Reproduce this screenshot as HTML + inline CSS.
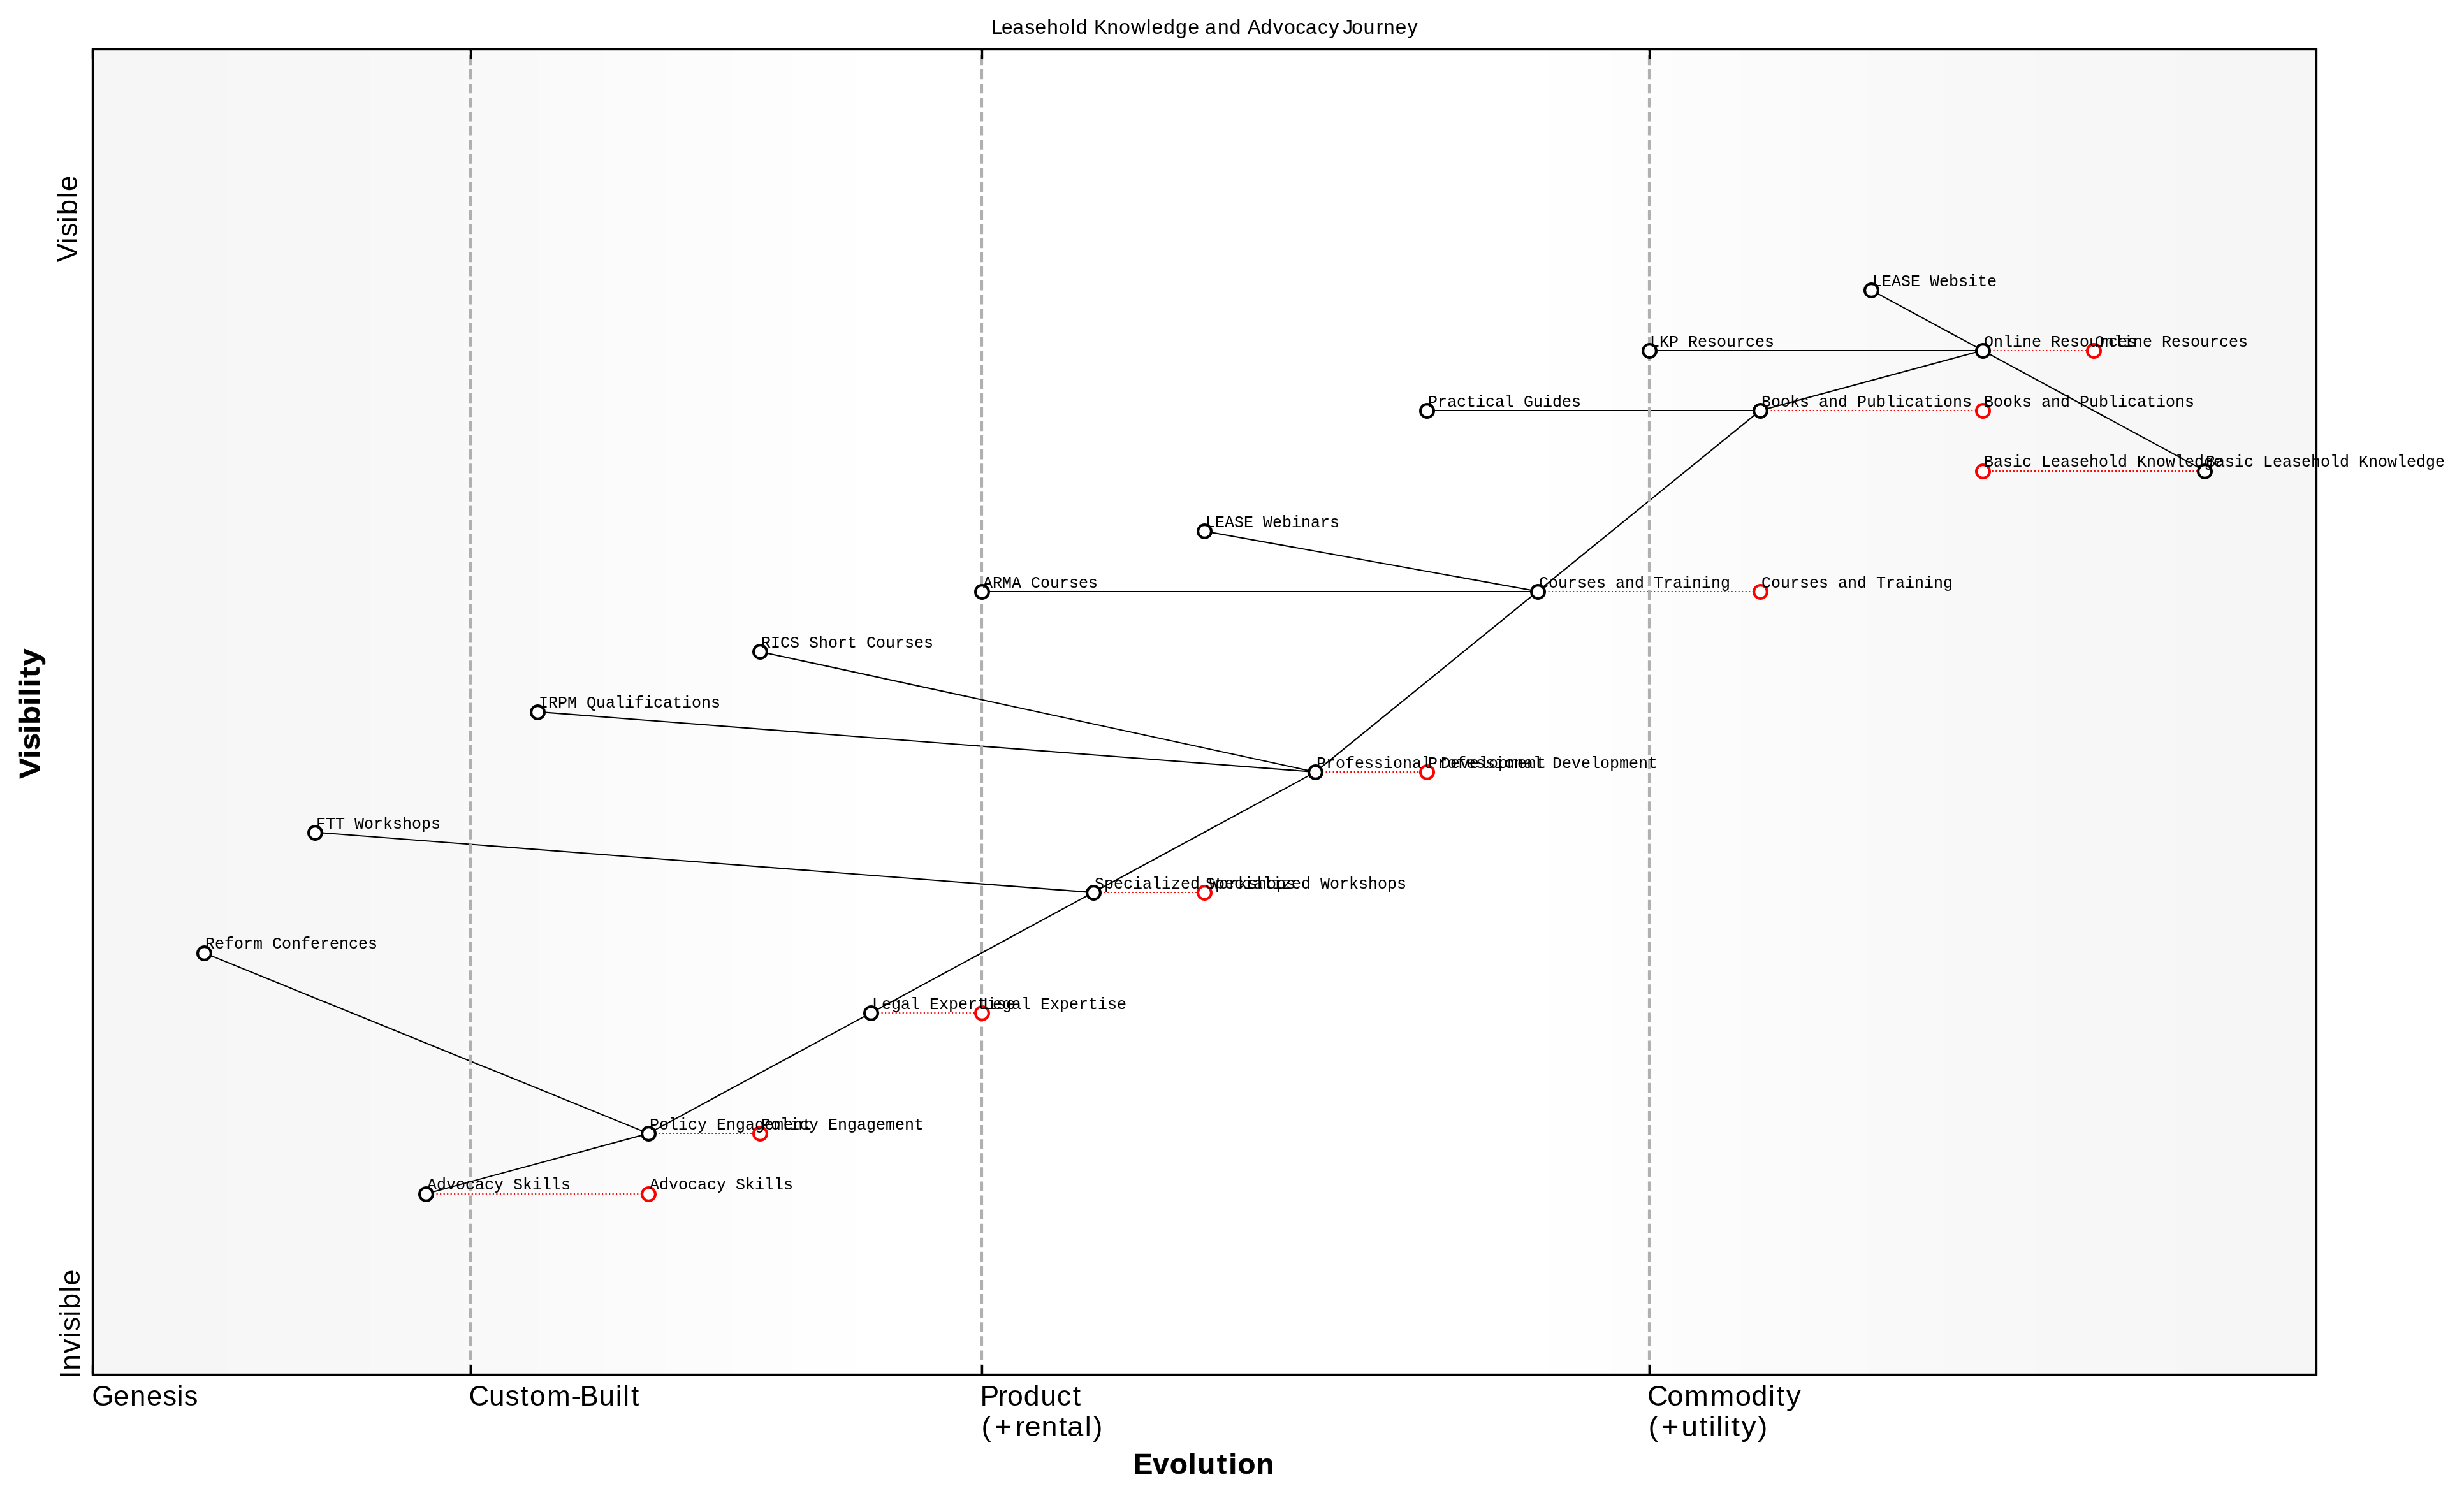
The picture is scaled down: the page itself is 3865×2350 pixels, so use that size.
<!DOCTYPE html>
<html lang="en"><head><meta charset="utf-8"><title>Leasehold Knowledge and Advocacy Journey</title>
<style>
html,body{margin:0;padding:0;background:#fff;}
body{width:3865px;height:2350px;font-family:"Liberation Sans",sans-serif;}
svg{display:block;position:absolute;left:0;top:0;will-change:transform;}
text{fill:#000;stroke:#000;stroke-linejoin:round;white-space:pre;}
.m{font-family:"Liberation Mono",monospace;font-size:26px;stroke-width:0.1;}
.t{font-family:"Liberation Sans",sans-serif;font-size:44px;stroke-width:0;}
.b{font-family:"Liberation Sans",sans-serif;font-weight:bold;font-size:44px;stroke-width:0.6;}
.h{font-family:"Liberation Sans",sans-serif;font-size:31.6px;stroke-width:0.08;}
.e{stroke:#000;stroke-width:2.083;fill:none;stroke-linecap:butt;}
.d{stroke:#f00;stroke-width:2.083;fill:none;stroke-dasharray:2.083 3.4375;}
.g{stroke:#b0b0b0;stroke-width:4.19;fill:none;stroke-dasharray:15.4167 6.6667;}
.k{stroke:#000;stroke-width:3.36;fill:none;}
.n{fill:#fff;stroke:#000;stroke-width:4.17;}
.r{fill:#fff;stroke:#f00;stroke-width:4.17;}
</style></head><body>
<svg width="3865" height="2350" viewBox="0 0 3865 2350">
<rect x="0" y="0" width="3865" height="2350" fill="#fff"/>
<g shape-rendering="crispEdges">
<rect x="145" y="77" width="213" height="2080" fill="#f6f6f6"/>
<rect x="358" y="77" width="223" height="2080" fill="#f7f7f7"/>
<rect x="581" y="77" width="145" height="2080" fill="#f8f8f8"/>
<rect x="726" y="77" width="118" height="2080" fill="#f9f9f9"/>
<rect x="844" y="77" width="104" height="2080" fill="#fafafa"/>
<rect x="948" y="77" width="96" height="2080" fill="#fbfbfb"/>
<rect x="1044" y="77" width="104" height="2080" fill="#fcfcfc"/>
<rect x="1148" y="77" width="96" height="2080" fill="#fdfdfd"/>
<rect x="1244" y="77" width="100" height="2080" fill="#fefefe"/>
<rect x="1344" y="77" width="1085" height="2080" fill="#ffffff"/>
<rect x="2429" y="77" width="100" height="2080" fill="#fefefe"/>
<rect x="2529" y="77" width="95" height="2080" fill="#fdfdfd"/>
<rect x="2624" y="77" width="105" height="2080" fill="#fcfcfc"/>
<rect x="2729" y="77" width="95" height="2080" fill="#fbfbfb"/>
<rect x="2824" y="77" width="105" height="2080" fill="#fafafa"/>
<rect x="2929" y="77" width="118" height="2080" fill="#f9f9f9"/>
<rect x="3047" y="77" width="145" height="2080" fill="#f8f8f8"/>
<rect x="3192" y="77" width="223" height="2080" fill="#f7f7f7"/>
<rect x="3415" y="77" width="219" height="2080" fill="#f6f6f6"/>
</g>
<g class="e">
<line x1="668.375" y1="1872.65" x2="1017.125" y2="1778.15"/>
<line x1="319.625" y1="1494.65" x2="1017.125" y2="1778.15"/>
<line x1="1017.125" y1="1778.15" x2="1365.875" y2="1589.15"/>
<line x1="1365.875" y1="1589.15" x2="1714.625" y2="1400.15"/>
<line x1="494" y1="1305.65" x2="1714.625" y2="1400.15"/>
<line x1="1714.625" y1="1400.15" x2="2063.375" y2="1211.15"/>
<line x1="842.75" y1="1116.65" x2="2063.375" y2="1211.15"/>
<line x1="1191.5" y1="1022.15" x2="2063.375" y2="1211.15"/>
<line x1="2063.375" y1="1211.15" x2="2412.125" y2="927.65"/>
<line x1="1540" y1="928" x2="2412" y2="928"/>
<line x1="1889" y1="833.15" x2="2412.125" y2="927.65"/>
<line x1="2412.125" y1="927.65" x2="2760.875" y2="644.15"/>
<line x1="2238" y1="644" x2="2761" y2="644"/>
<line x1="2760.875" y1="644.15" x2="3109.625" y2="549.65"/>
<line x1="2586" y1="550" x2="3110" y2="550"/>
<line x1="2935.25" y1="455.15" x2="3109.625" y2="549.65"/>
<line x1="3109.625" y1="549.65" x2="3458.375" y2="738.65"/>
</g>
<g class="d">
<line x1="668" y1="1873" x2="1017" y2="1873"/>
<line x1="1017" y1="1778" x2="1192" y2="1778"/>
<line x1="1366" y1="1589" x2="1540" y2="1589"/>
<line x1="1715" y1="1400" x2="1889" y2="1400"/>
<line x1="2063" y1="1211" x2="2238" y2="1211"/>
<line x1="2412" y1="928" x2="2761" y2="928"/>
<line x1="2761" y1="644" x2="3110" y2="644"/>
<line x1="3110" y1="550" x2="3284" y2="550"/>
<line x1="3458" y1="739" x2="3110" y2="739"/>
</g>
<g class="g">
<line x1="738" y1="2155.91" x2="738" y2="77.5"/>
<line x1="1540" y1="2155.91" x2="1540" y2="77.5"/>
<line x1="2587" y1="2155.91" x2="2587" y2="77.5"/>
</g>
<g class="k">
<line x1="145.5" y1="77.5" x2="145.5" y2="92.56"/>
<line x1="145.5" y1="2141.38" x2="145.5" y2="2156.5"/>
<line x1="738.5" y1="77.5" x2="738.5" y2="92.56"/>
<line x1="738.5" y1="2141.38" x2="738.5" y2="2156.5"/>
<line x1="1540.5" y1="77.5" x2="1540.5" y2="92.56"/>
<line x1="1540.5" y1="2141.38" x2="1540.5" y2="2156.5"/>
<line x1="2587.5" y1="77.5" x2="2587.5" y2="92.56"/>
<line x1="2587.5" y1="2141.38" x2="2587.5" y2="2156.5"/>
</g>
<circle class="n" cx="320.5" cy="1495.5" r="10.42"/>
<circle class="n" cx="494.5" cy="1306.5" r="10.42"/>
<circle class="n" cx="668.5" cy="1873.5" r="10.42"/>
<circle class="n" cx="843.5" cy="1117.5" r="10.42"/>
<circle class="n" cx="1017.5" cy="1778.5" r="10.42"/>
<circle class="n" cx="1192.5" cy="1022.5" r="10.42"/>
<circle class="n" cx="1366.5" cy="1589.5" r="10.42"/>
<circle class="n" cx="1540.5" cy="928.5" r="10.42"/>
<circle class="n" cx="1715.5" cy="1400.5" r="10.42"/>
<circle class="n" cx="1889.5" cy="833.5" r="10.42"/>
<circle class="n" cx="2063.5" cy="1211.5" r="10.42"/>
<circle class="n" cx="2238.5" cy="644.5" r="10.42"/>
<circle class="n" cx="2412.5" cy="928.5" r="10.42"/>
<circle class="n" cx="2587.5" cy="550.5" r="10.42"/>
<circle class="n" cx="2761.5" cy="644.5" r="10.42"/>
<circle class="n" cx="2935.5" cy="455.5" r="10.42"/>
<circle class="n" cx="3110.5" cy="550.5" r="10.42"/>
<circle class="n" cx="3458.5" cy="739.5" r="10.42"/>
<circle class="r" cx="1017.5" cy="1873.5" r="10.42"/>
<circle class="r" cx="1192.5" cy="1778.5" r="10.42"/>
<circle class="r" cx="1540.5" cy="1589.5" r="10.42"/>
<circle class="r" cx="1889.5" cy="1400.5" r="10.42"/>
<circle class="r" cx="2238.5" cy="1211.5" r="10.42"/>
<circle class="r" cx="2761.5" cy="928.5" r="10.42"/>
<circle class="r" cx="3110.5" cy="644.5" r="10.42"/>
<circle class="r" cx="3284.5" cy="550.5" r="10.42"/>
<circle class="r" cx="3110.5" cy="739.5" r="10.42"/>
<rect class="k" x="145.5" y="77.5" width="3488" height="2079"/>
<text class="m" x="322" y="1488" textLength="270" lengthAdjust="spacingAndGlyphs">Reform Conferences</text>
<text class="m" x="496" y="1300" textLength="195" lengthAdjust="spacingAndGlyphs">FTT Workshops</text>
<text class="m" x="670" y="1866" textLength="225" lengthAdjust="spacingAndGlyphs">Advocacy Skills</text>
<text class="m" x="845" y="1110" textLength="285" lengthAdjust="spacingAndGlyphs">IRPM Qualifications</text>
<text class="m" x="1019" y="1772" textLength="255" lengthAdjust="spacingAndGlyphs">Policy Engagement</text>
<text class="m" x="1194" y="1016" textLength="270" lengthAdjust="spacingAndGlyphs">RICS Short Courses</text>
<text class="m" x="1368" y="1583" textLength="225" lengthAdjust="spacingAndGlyphs">Legal Expertise</text>
<text class="m" x="1542" y="922" textLength="180" lengthAdjust="spacingAndGlyphs">ARMA Courses</text>
<text class="m" x="1717" y="1394" textLength="315" lengthAdjust="spacingAndGlyphs">Specialized Workshops</text>
<text class="m" x="1891" y="827" textLength="210" lengthAdjust="spacingAndGlyphs">LEASE Webinars</text>
<text class="m" x="2065" y="1205" textLength="360" lengthAdjust="spacingAndGlyphs">Professional Development</text>
<text class="m" x="2240" y="638" textLength="240" lengthAdjust="spacingAndGlyphs">Practical Guides</text>
<text class="m" x="2414" y="922" textLength="300" lengthAdjust="spacingAndGlyphs">Courses and Training</text>
<text class="m" x="2588" y="544" textLength="195" lengthAdjust="spacingAndGlyphs">LKP Resources</text>
<text class="m" x="2763" y="638" textLength="330" lengthAdjust="spacingAndGlyphs">Books and Publications</text>
<text class="m" x="2937" y="449" textLength="195" lengthAdjust="spacingAndGlyphs">LEASE Website</text>
<text class="m" x="3112" y="544" textLength="240" lengthAdjust="spacingAndGlyphs">Online Resources</text>
<text class="m" x="3460" y="732" textLength="375" lengthAdjust="spacingAndGlyphs">Basic Leasehold Knowledge</text>
<text class="m" x="1019" y="1866" textLength="225" lengthAdjust="spacingAndGlyphs">Advocacy Skills</text>
<text class="m" x="1194" y="1772" textLength="255" lengthAdjust="spacingAndGlyphs">Policy Engagement</text>
<text class="m" x="1542" y="1583" textLength="225" lengthAdjust="spacingAndGlyphs">Legal Expertise</text>
<text class="m" x="1891" y="1394" textLength="315" lengthAdjust="spacingAndGlyphs">Specialized Workshops</text>
<text class="m" x="2240" y="1205" textLength="360" lengthAdjust="spacingAndGlyphs">Professional Development</text>
<text class="m" x="2763" y="922" textLength="300" lengthAdjust="spacingAndGlyphs">Courses and Training</text>
<text class="m" x="3112" y="638" textLength="330" lengthAdjust="spacingAndGlyphs">Books and Publications</text>
<text class="m" x="3286" y="544" textLength="240" lengthAdjust="spacingAndGlyphs">Online Resources</text>
<text class="m" x="3112" y="732" textLength="375" lengthAdjust="spacingAndGlyphs">Basic Leasehold Knowledge</text>
<text class="h" transform="translate(0 53) scale(0.996 1)" x="1560.658 1577.217 1594.532 1613.925 1629.949 1648.807 1667.521 1686.287 1694.682 1713.284 1722.97 1743.52 1762.188 1781.144 1805.562 1813.883 1832.538 1851.747 1870.884 1888.931 1897.74 1917.786 1936.62 1955.222 1964.521 1985.46 2005.076 2022.332 2040.353 2056.187 2075.382 2092.955 2109.777 2114.605 2128.8 2147.467 2167.446 2178.809 2197.57 2216.624" y="0">Leasehold Knowledge and Advocacy Journey</text>
<text class="t" transform="translate(0 2205) scale(0.996 1)" x="144.82 178.759 204.913 230.967 256.25 278.757 289.634" y="0">Genesis</text>
<text class="t" transform="translate(0 2205) scale(1.002 1)" x="733.936 765.402 791.047 814.539 829.354 856.243 894.818 907.655 937.524 963.871 975.324 987.908" y="0">Custom-Built</text>
<text class="t" transform="translate(0 2205) scale(1.014 1)" x="1516.404 1543.886 1558.315 1583.585 1609.748 1634.817 1659.487" y="0">Product</text>
<text class="t" transform="translate(0 2253) scale(1.022 1)" x="1506.34 1526.841 1558.479 1572.939 1598.436 1625.28 1638.215 1665.207 1677.534" y="0">(+rental)</text>
<text class="t" transform="translate(0 2205) scale(1.03 1)" x="2508.761 2539.092 2565.095 2604.422 2642.386 2667.277 2693.259 2705.446 2720.504" y="0">Commodity</text>
<text class="t" transform="translate(0 2253) scale(1.055 1)" x="2450.681 2470.393 2499.869 2526.221 2540.777 2551.653 2562.572 2574.431 2589.013 2613.299" y="0">(+utility)</text>
<text class="b" transform="translate(0 2312) scale(1.033 1)" x="1720.988 1750.614 1776.267 1804.31 1818.167 1848.035 1866.033 1879.38 1907.553" y="0">Evolution</text>
<text class="b" transform="translate(62 1219.688) rotate(-90) scale(1.107 1)" x="-1.911 27.003 38.664 62.244 75.018 102.115 114.991 127.867 141.824 158.152" y="0">Visibility</text>
<text class="t" transform="translate(124.67 2157) rotate(-90) scale(1.031 1)" x="-5.931 6.82 32.69 56.325 66.624 88.562 99.797 125.261 135.964" y="0">Invisible</text>
<text class="t" transform="translate(120.67 408.75) rotate(-90) scale(1 1)" x="-2.428 26.488 37.292 59.727 71.555 97.567 108.83" y="0">Visible</text>
</svg>
</body></html>
